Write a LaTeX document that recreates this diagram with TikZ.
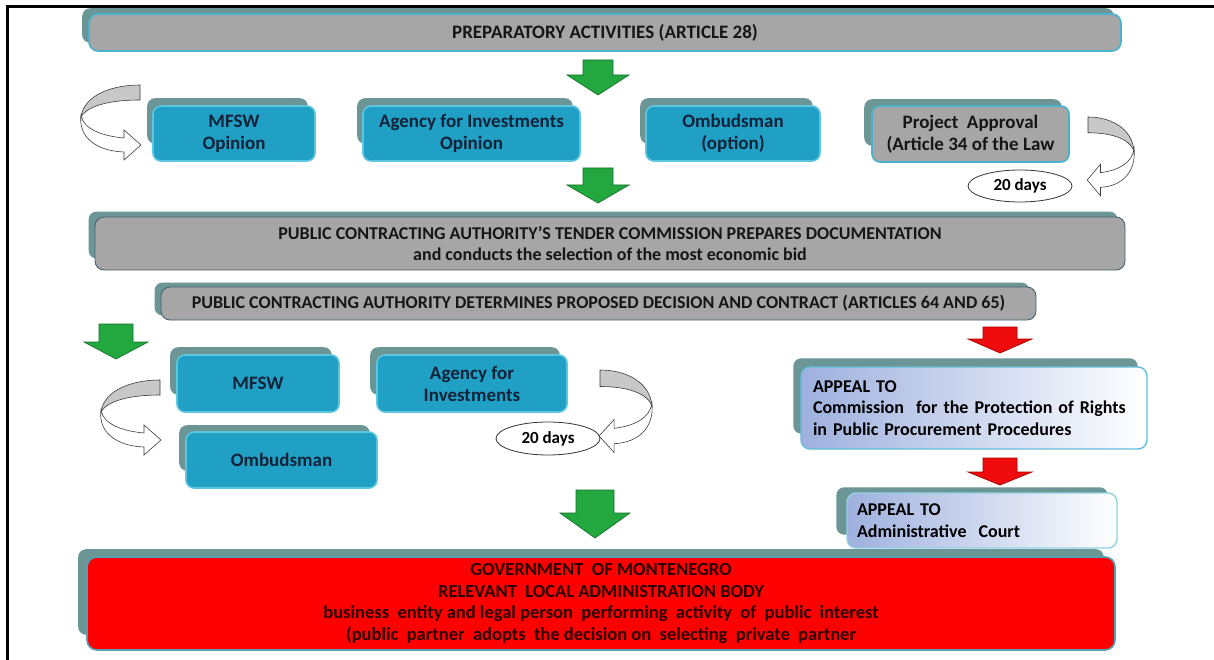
\documentclass[tikz,border=0pt]{standalone}
\usepackage{fontspec}
\setmainfont{Carlito}
\usetikzlibrary{shapes.geometric,backgrounds,calc}

\definecolor{tealfill}{RGB}{33,160,198}
\definecolor{tealline}{RGB}{92,198,224}
\definecolor{shadowc}{RGB}{108,150,150}
\definecolor{grayfill}{RGB}{166,166,166}
\definecolor{cyanline}{RGB}{75,178,204}
\definecolor{slateline}{RGB}{72,98,112}
\definecolor{navytext}{RGB}{18,34,56}
\definecolor{darktext}{RGB}{22,22,22}
\definecolor{appealleft}{RGB}{158,176,222}
\definecolor{appealline}{RGB}{98,190,216}
\definecolor{govred}{RGB}{255,0,0}
\definecolor{govline}{RGB}{84,160,176}
\definecolor{govtext}{RGB}{45,0,0}
\definecolor{arrgreen}{RGB}{34,168,62}
\definecolor{arrgreenline}{RGB}{22,112,44}
\definecolor{arrred}{RGB}{238,12,12}
\definecolor{arrredline}{RGB}{168,0,0}
\definecolor{bendgray}{RGB}{200,200,200}
\definecolor{bendline}{RGB}{60,60,60}

% block arrow pointing down: style, centre x, top y, shaft half width,
% head half width, y where the head starts, y of the tip
\newcommand\DownBlock[7]{%
  \draw[#1] (#2-#4,#3) -- (#2+#4,#3) -- (#2+#4,#6) -- (#2+#5,#6)
    -- (#2,#7) -- (#2-#5,#6) -- (#2-#4,#6) -- cycle;}

% rounded shadow plate behind a box
\newcommand\PlateBehind[5]{%
  \fill[shadowc,rounded corners=8pt]
    ($(#1.north west)+(#2,#3)$) rectangle ($(#1.south east)+(#4,#5)$);}

\tikzset{
  x=1pt, y=-1pt,
  every node/.style={font=\bfseries},
  tealbox/.style={draw=tealline, line width=1.6pt, fill=tealfill,
    rounded corners=8pt, text=navytext, align=center,
    font=\fontsize{19}{22}\selectfont\bfseries},
  graybar/.style={draw=slateline, line width=0.9pt, fill=grayfill,
    rounded corners=9pt, text=darktext, align=center,
    font=\fontsize{18}{20.5}\selectfont\bfseries},
  appealbox/.style={draw=appealline, line width=1.4pt,
    left color=appealleft, right color=white,
    rounded corners=9pt, text=black, align=left,
    font=\fontsize{18}{21.5}\selectfont\bfseries},
  daysoval/.style={ellipse, draw=black!80, line width=0.8pt, fill=white,
    inner sep=0pt, font=\fontsize{17}{20}\selectfont\bfseries},
  greenarrow/.style={fill=arrgreen, draw=arrgreenline, line width=0.7pt},
  redarrow/.style={fill=arrred, draw=arrredline, line width=0.7pt},
  bend/.pic={
    \draw[fill=bendgray, draw=bendline, line width=0.6pt]
      (0,0) .. controls (-28,0) and (-56,10) .. (-59,32)
      .. controls (-52,20) and (-28,15) .. (0,15) -- cycle;
    \draw[fill=white, draw=bendline, line width=0.6pt]
      (-59,30) .. controls (-57,44) and (-38,51) .. (-16,53)
      -- (-16,45) -- (1,60) -- (-16,75) -- (-16,67)
      .. controls (-44,66) and (-62,52) .. (-59,30) -- cycle;
  }
}

\begin{document}
\begin{tikzpicture}
\useasboundingbox (0,0) rectangle (1214,660);

% frame
\draw[line width=3pt] (7,660) -- (7,7) -- (1214,7);

% --- preparatory stage ---
\node[graybar, draw=cyanline, line width=1.6pt, font=\fontsize{19}{22}\selectfont\bfseries,
  minimum width=1032pt, minimum height=37pt]
  (prep) at (605,32.5) {PREPARATORY ACTIVITIES (ARTICLE 28)};

\node[tealbox, minimum width=162pt, minimum height=55pt] (mfswop) at (234,133.5)
  {MFSW\\Opinion};
\node[tealbox, minimum width=217pt, minimum height=55pt] (agencyop) at (471.5,133.5)
  {Agency for Investments\\Opinion};
\node[tealbox, minimum width=174pt, minimum height=55pt] (ombop) at (733,133.5)
  {Ombudsman\\(option)};
\node[graybar, draw=cyanline, line width=1.6pt, rounded corners=8pt,
  font=\fontsize{19}{22}\selectfont\bfseries,
  minimum width=197pt, minimum height=56pt] (approval) at (970.5,134)
  {Project\ \ Approval\\(Article 34 of the Law};
\node[daysoval, minimum width=104pt, minimum height=32pt] (days1) at (1020,186) {20 days};

% --- tender stage ---
\node[graybar, minimum width=1030pt, minimum height=53pt] (tender) at (610,243.5)
  {PUBLIC CONTRACTING AUTHORITY’S TENDER COMMISSION PREPARES DOCUMENTATION\\
   and conducts the selection of the most economic bid};
\node[graybar, minimum width=875pt, minimum height=33pt] (decision) at (598.5,303.5)
  {PUBLIC CONTRACTING AUTHORITY DETERMINES PROPOSED DECISION AND CONTRACT (ARTICLES 64 AND 65)};

\node[tealbox, minimum width=162pt, minimum height=57pt] (mfsw) at (258,383.5) {MFSW};
\node[tealbox, minimum width=190pt, minimum height=57pt] (agency) at (472,383.5)
  {Agency for\\Investments};
\node[tealbox, minimum width=191pt, minimum height=56pt] (omb) at (281.5,460) {Ombudsman};
\node[daysoval, minimum width=104pt, minimum height=33pt] (days2) at (548,438.5) {20 days};

% --- appeals ---
\node[appealbox, text width=322pt, inner xsep=12pt, minimum height=82pt] (appeal1) at (974,408)
  {APPEAL TO\\Commission\ \ for the Protection of Rights\\in Public Procurement Procedures};
\node[appealbox, draw=appealline!70, text width=250pt, inner xsep=10pt, minimum height=55pt]
  (appeal2) at (982,520.5) {APPEAL TO\\Administrative\ \ Court};

% --- decision body ---
\node[draw=govline, line width=1.6pt, fill=govred, rounded corners=10pt,
  text=govtext, align=center, font=\fontsize{18.5}{21.5}\selectfont\bfseries,
  minimum width=1028pt, minimum height=93pt] (gov) at (601,603.5)
  {GOVERNMENT\ \ OF\ MONTENEGRO\\
   RELEVANT\ \ LOCAL ADMINISTRATION BODY\\
   business\ \ entity and legal person\ \ performing\ \ activity\ \ of\ \ public\ \ interest\\
   (public\ \ partner\ \ adopts\ \ the\ decision\ on\ \ selecting\ \ private\ \ partner};

% shadow plates
\begin{pgfonlayer}{background}
  \fill[white] (0,0) rectangle (1214,660);
  \PlateBehind{prep}{-6}{-5}{-8}{-9}
  \PlateBehind{mfswop}{-5}{-7}{-8}{-18}
  \PlateBehind{agencyop}{-5}{-7}{-8}{-18}
  \PlateBehind{ombop}{-5}{-7}{-8}{-18}
  \PlateBehind{approval}{-7}{-6}{-8}{-17}
  \PlateBehind{tender}{-6}{-5}{-8}{-12}
  \PlateBehind{decision}{-6}{-4}{-7}{-5}
  \PlateBehind{mfsw}{-6}{-7}{-8}{-18}
  \PlateBehind{agency}{-6}{-7}{-8}{-18}
  \PlateBehind{omb}{-6}{-6}{-8}{-18}
  \PlateBehind{appeal1}{-7}{-8}{-10}{-16}
  \PlateBehind{appeal2}{-10}{-5}{-10}{-14}
  \PlateBehind{gov}{-8}{-7}{-12}{-16}
\end{pgfonlayer}

% block arrows
\DownBlock{greenarrow}{598}{60}{15}{31}{75}{95}
\DownBlock{greenarrow}{598}{168}{15}{31}{185}{203}
\DownBlock{greenarrow}{116}{324}{17}{32}{342}{359}
\DownBlock{greenarrow}{595}{490}{19}{35}{513}{538}
\DownBlock{redarrow}{1000}{327}{17}{32}{339}{353}
\DownBlock{redarrow}{1000}{458}{17}{32}{472}{485}

% curved return arrows
\pic at (140,85) {bend};
\pic[xscale=-0.78, yscale=1.05] at (1088,117) {bend};
\pic at (160,380) {bend};
\pic[xscale=-0.88, yscale=1.1] at (600,370) {bend};
\end{tikzpicture}
\end{document}
